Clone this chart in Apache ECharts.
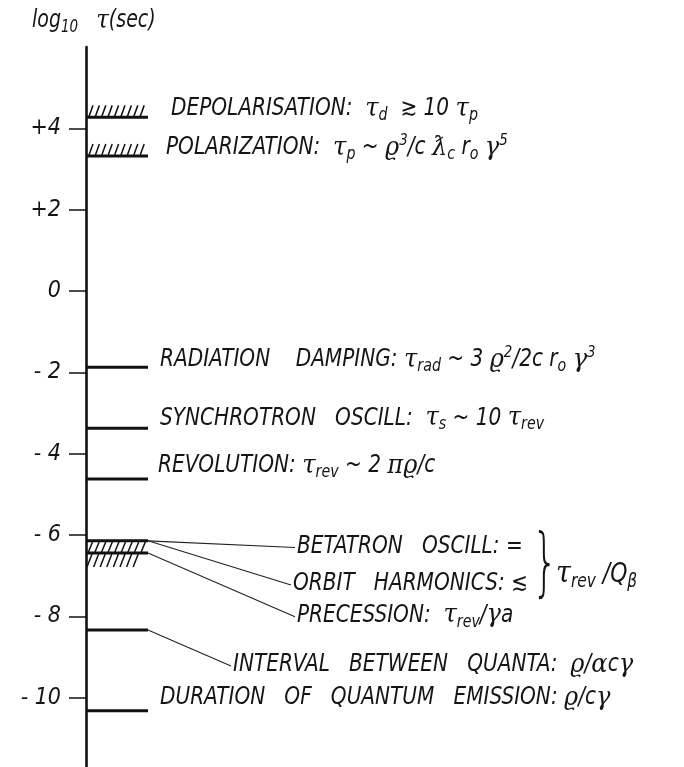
<!DOCTYPE html>
<html><head><meta charset="utf-8">
<script src="https://cdn.jsdelivr.net/npm/echarts@6/dist/echarts.min.js"></script>
<style>html,body{margin:0;padding:0;background:#fff}#c{width:684px;height:767px}</style>
</head><body><div id="c"></div>
<script>
// ---- data ----
const tickValues = [4, 2, 0, -2, -4, -6, -8, -10];
const tickLabels = ['+4', '+2', '0', '- 2', '- 4', '- 6', '- 8', '- 10'];
const levelNames = ['DEPOLARISATION', 'POLARIZATION', 'RADIATION DAMPING', 'SYNCHROTRON OSCILL', 'REVOLUTION',
  'BETATRON OSCILL', 'ORBIT HARMONICS', 'INTERVAL BETWEEN QUANTA', 'DURATION OF QUANTUM EMISSION'];
const levelValues = [4.27, 3.32, -1.87, -3.37, -4.62, -6.14, -6.44, -8.33, -10.32];
const levelHatch = ['above', 'above', 'none', 'none', 'none', 'band', 'below', 'none', 'none'];
const labelTexts = [
  '{t|DEPOLARISATION:  }{g|τ}{sub|d}{t|  ≳ 10 }{g|τ}{sub|p}',
  '{t|POLARIZATION:  }{g|τ}{sub|p}{t| ~ }{g|ϱ}{sup|3}{t|/c }{g|ƛ}{sub|c}{t| r}{sub|o}{t| }{g|γ}{sup|5}',
  '{t|RADIATION    DAMPING: }{g|τ}{sub|rad}{t| ~ 3 }{g|ϱ}{sup|2}{t|/2c }{t|r}{sub|o}{t| }{g|γ}{sup|3}',
  '{t|SYNCHROTRON   OSCILL:  }{g|τ}{sub|s}{t| ~ 10 }{g|τ}{sub|rev}',
  '{t|REVOLUTION: }{g|τ}{sub|rev}{t| ~ 2 }{g|π}{g|ϱ}{t|/c}',
  '{t|BETATRON   OSCILL: =}',
  '{t|ORBIT   HARMONICS: ≲}',
  '{t|PRECESSION:  }{g|τ}{sub|rev}{t|/}{g|γ}{t|a}',
  '{t|INTERVAL   BETWEEN   QUANTA:  }{g|ϱ}{t|/}{g|α}{t|c}{g|γ}',
  '{t|DURATION   OF   QUANTUM   EMISSION: }{g|ϱ}{t|/c}{g|γ}'
];
const labelLevel = [0, 1, 2, 3, 4, 5, 6, 6, 7, 8];
const groupText = '{gg|τ}{gsub|rev}{gt| /Q}{gsub|β}';
const titleText = '{t|log}{sub|10}{t|   }{g|τ}{t|(sec)}';

// ---- layout ----
const GRID_LEFT = 86, GRID_TOP = 47;
const LINE_LEN = 62;
const layout = {
  labelX: [171, 166, 160, 160, 158, 297, 293, 297, 233, 160],
  labelY: [4.48, 3.52, -1.70, -3.13, -4.30, -6.28, -7.20, -7.98, -9.19, -10.0],
  leaderFrom: [null, null, null, null, null, 5, 5, 6, 7, null],
  braceX: 532, braceY: -6.80, groupX: 556, groupY: -6.97
};
const F = "'Liberation Sans Narrow','DejaVu Sans Condensed','Liberation Sans',sans-serif";
const GF = "'DejaVu Serif','Liberation Serif',serif";
const SCALE_X = 0.93;
const rich = {
  t: {fontSize: 24, fontStyle: 'italic', fontFamily: F, fill: '#151515', lineHeight: 30},
  g: {fontSize: 26, fontStyle: 'italic', fontFamily: GF, fill: '#151515', lineHeight: 30},
  sub: {fontSize: 17, fontStyle: 'italic', fontFamily: F, fill: '#151515', verticalAlign: 'bottom'},
  sup: {fontSize: 16, fontStyle: 'italic', fontFamily: F, fill: '#151515', verticalAlign: 'top'},
  gt: {fontSize: 27, fontStyle: 'italic', fontFamily: F, fill: '#151515', lineHeight: 34},
  gg: {fontSize: 30, fontStyle: 'italic', fontFamily: GF, fill: '#151515', lineHeight: 34},
  gsub: {fontSize: 19, fontStyle: 'italic', fontFamily: F, fill: '#151515', verticalAlign: 'bottom'}
};

const chart = echarts.init(document.getElementById('c'));

function levelItem(params, api) {
  const i = api.value(2), v = api.value(1);
  const p0 = api.coord([0, v]), p1 = api.coord([LINE_LEN, v]);
  const ch = [{type: 'line', shape: {x1: p0[0], y1: p0[1], x2: p1[0], y2: p1[1]},
    style: {stroke: '#111', lineWidth: 3}}];
  const hs = {stroke: '#111', lineWidth: 1.5};
  if (levelHatch[i] === 'above') {
    for (let x = p0[0] + 3; x <= p1[0] - 4; x += 6.4) {
      ch.push({type: 'line', shape: {x1: x, y1: p0[1] - 1, x2: x + 4, y2: p0[1] - 12}, style: hs});
    }
  } else if (levelHatch[i] === 'band') {
    const q = api.coord([0, levelValues[i + 1]]);
    for (let x = p0[0] + 2; x <= p1[0] - 5; x += 6.6) {
      ch.push({type: 'line', shape: {x1: x, y1: q[1], x2: x + 5, y2: p0[1]}, style: hs});
    }
  } else if (levelHatch[i] === 'below') {
    for (let x = p0[0] + 1; x <= p1[0] - 10; x += 6.6) {
      ch.push({type: 'line', shape: {x1: x, y1: p0[1] + 14, x2: x + 5, y2: p0[1] + 1}, style: hs});
    }
  }
  return {type: 'group', children: ch};
}

function labelItem(params, api) {
  const k = api.value(2);
  const pt = api.coord([layout.labelX[k] - GRID_LEFT, layout.labelY[k]]);
  const ch = [{type: 'text', x: pt[0], y: pt[1], scaleX: SCALE_X,
    style: {text: labelTexts[k], rich: rich, align: 'left', verticalAlign: 'middle'}}];
  const from = layout.leaderFrom[k];
  if (from !== null) {
    const a = api.coord([LINE_LEN, levelValues[from]]);
    ch.push({type: 'line', shape: {x1: a[0], y1: a[1], x2: pt[0] - 2, y2: pt[1] + 1},
      style: {stroke: '#222', lineWidth: 1.1}});
  }
  return {type: 'group', children: ch};
}

function extraItem(params, api) {
  const b = api.coord([layout.braceX - GRID_LEFT, layout.braceY]);
  const g = api.coord([layout.groupX - GRID_LEFT, layout.groupY]);
  return {type: 'group', children: [
    {type: 'text', x: b[0], y: b[1], scaleX: 0.55,
      style: {text: '}', font: 'normal 200 74px ' + "'DejaVu Sans','Liberation Sans',sans-serif", fill: '#151515',
        align: 'left', verticalAlign: 'middle'}},
    {type: 'text', x: g[0], y: g[1], scaleX: 0.9,
      style: {text: groupText, rich: rich, align: 'left', verticalAlign: 'middle'}}
  ]};
}

chart.setOption({
  animation: false,
  backgroundColor: '#fff',
  graphic: [{type: 'text', left: 32, top: 8, scaleX: 0.88,
    style: {text: titleText, rich: rich}}],
  grid: {left: GRID_LEFT, top: GRID_TOP, width: 597, height: 720},
  xAxis: {type: 'value', min: 0, max: 597, show: false},
  yAxis: {
    type: 'value', min: -11.7, max: 6,
    splitLine: {show: false},
    axisLine: {show: true, lineStyle: {color: '#111', width: 2.6}},
    axisTick: {show: true, length: 17, customValues: tickValues, lineStyle: {color: '#111', width: 1.5}},
    axisLabel: {
      customValues: tickValues, margin: 25,
      formatter: v => tickLabels[tickValues.indexOf(v)] || '',
      fontSize: 23, fontStyle: 'italic', fontFamily: F, color: '#151515'
    }
  },
  series: [
    {type: 'custom', name: 'levels', clip: false, renderItem: levelItem,
      data: levelValues.map((v, i) => [0, v, i])},
    {type: 'custom', name: 'labels', clip: false, renderItem: labelItem,
      data: labelTexts.map((t, k) => [0, layout.labelY[k], k])},
    {type: 'custom', name: 'group', clip: false, renderItem: extraItem,
      data: [[0, layout.groupY, 0]]}
  ]
});
</script>
</body></html>
